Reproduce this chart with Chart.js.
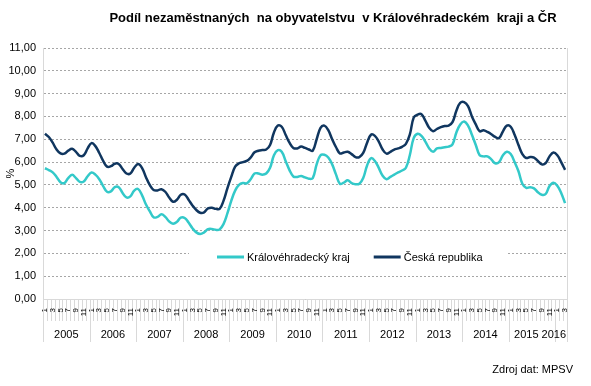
<!DOCTYPE html>
<html>
<head>
<meta charset="utf-8">
<script src="https://cdn.jsdelivr.net/npm/chart.js@4/dist/chart.umd.min.js"></script>
<style>
  html, body { margin: 0; padding: 0; background: #fff; }
  #wrap { width: 591px; height: 386px; position: relative; }
</style>
</head>
<body>
<div id="wrap"><canvas id="chart" width="591" height="386"></canvas></div>
<script>
// ----- Data -----
const chartTitle = "Podíl nezaměstnaných  na obyvatelstvu  v Královéhradeckém  kraji a ČR";
const sourceNote = "Zdroj dat: MPSV";
const years = ["2005", "2006", "2007", "2008", "2009", "2010", "2011", "2012", "2013", "2014", "2015", "2016"];
const months = ["1", "2", "3", "4", "5", "6", "7", "8", "9", "10", "11", "12"];
const monthsIn2016 = 3;
const seriesNames = ["Královéhradecký kraj", "Česká republika"];

// Královéhradecký kraj, monthly from 1/2005
const khk = [
  5.73, 5.65, 5.55, 5.35, 5.12, 5.08, 5.30, 5.44, 5.30, 5.13, 5.15, 5.38,
  5.54, 5.45, 5.25, 4.95, 4.70, 4.72, 4.90, 4.90, 4.65, 4.45, 4.50, 4.75,
  4.82, 4.55, 4.15, 3.85, 3.58, 3.60, 3.71, 3.60, 3.40, 3.30, 3.38, 3.57,
  3.55, 3.35, 3.10, 2.92, 2.85, 2.92, 3.06, 3.07, 3.03, 3.05, 3.28, 3.75,
  4.30, 4.75, 5.00, 5.08, 5.07, 5.25, 5.50, 5.50, 5.45, 5.50, 5.75, 6.30,
  6.52, 6.45, 6.05, 5.65, 5.37, 5.35, 5.39, 5.33, 5.27, 5.30, 5.90, 6.30,
  6.32, 6.20, 5.90, 5.45, 5.05, 5.10, 5.20, 5.08, 5.03, 5.05, 5.30, 5.85,
  6.17, 6.05, 5.75, 5.40, 5.25, 5.35, 5.45, 5.55, 5.63, 5.75, 6.30, 7.05,
  7.24, 7.15, 6.90, 6.60, 6.45, 6.60, 6.62, 6.65, 6.68, 6.78, 7.30, 7.65,
  7.78, 7.60, 7.20, 6.75, 6.30, 6.25, 6.25, 6.12, 5.95, 6.00, 6.30, 6.45,
  6.35, 6.00, 5.60, 5.05, 4.87, 4.90, 4.85, 4.68, 4.57, 4.60, 4.95, 5.10,
  4.96, 4.65, 4.20
];

// Česká republika, monthly from 1/2005
const cr = [
  7.24, 7.10, 6.85, 6.55, 6.38, 6.37, 6.50, 6.58, 6.45, 6.27, 6.30, 6.60,
  6.83, 6.70, 6.40, 6.05, 5.80, 5.82, 5.93, 5.92, 5.70, 5.50, 5.50, 5.75,
  5.92, 5.75, 5.35, 5.00, 4.78, 4.76, 4.81, 4.70, 4.45, 4.26, 4.35, 4.57,
  4.58, 4.35, 4.10, 3.90, 3.78, 3.80, 3.97, 4.00, 3.95, 3.95, 4.30, 4.85,
  5.35, 5.80, 5.95, 6.00, 6.05, 6.20, 6.43, 6.50, 6.53, 6.55, 6.75, 7.30,
  7.60, 7.55, 7.20, 6.85, 6.62, 6.60, 6.68, 6.62, 6.55, 6.50, 7.00, 7.50,
  7.60, 7.40, 7.00, 6.65, 6.38, 6.42, 6.45, 6.35, 6.22, 6.22, 6.40, 6.85,
  7.20, 7.15, 6.90, 6.55, 6.37, 6.45, 6.55, 6.60, 6.67, 6.80, 7.20, 7.95,
  8.08, 8.10, 7.82, 7.50, 7.35, 7.45, 7.53, 7.58, 7.60, 7.75, 8.25, 8.60,
  8.63, 8.45, 8.00, 7.65, 7.35, 7.40, 7.32, 7.22, 7.10, 7.05, 7.35, 7.60,
  7.55, 7.20, 6.75, 6.35, 6.18, 6.22, 6.20, 6.05, 5.90, 5.95, 6.25, 6.42,
  6.30, 6.00, 5.66
];

// ----- Labels -----
const labels = [];
years.forEach((y, i) => {
  const count = i === years.length - 1 ? monthsIn2016 : 12;
  for (let m = 0; m < count; m++) labels.push(months[m]);
});

const FONT = "Arial, 'Liberation Sans', sans-serif";
const GRID = "#d9d9d9";

// ----- Plugins: axis decoration, legend, title -----
const axisLines = {
  id: "axisLines",
  beforeDraw(chart) {
    const { ctx, chartArea: a, scales: { x } } = chart;
    const step = x.getPixelForValue(1) - x.getPixelForValue(0);
    ctx.save();
    ctx.strokeStyle = GRID;
    ctx.lineWidth = 1;
    ctx.beginPath();
    for (let i = 0; i <= labels.length; i++) {
      const px = Math.round(x.getPixelForValue(i) - step / 2) + 0.5;
      ctx.moveTo(px, a.bottom);
      ctx.lineTo(px, a.bottom + 22);
    }
    ctx.stroke();
    ctx.restore();
  },
  afterDraw(chart) {
    const { ctx, chartArea: a, scales: { x } } = chart;
    const step = x.getPixelForValue(1) - x.getPixelForValue(0);
    ctx.save();
    ctx.strokeStyle = GRID;
    ctx.lineWidth = 1;
    ctx.beginPath();
    // right border of plot
    ctx.moveTo(Math.round(a.right) + 0.5, a.top);
    ctx.lineTo(Math.round(a.right) + 0.5, a.bottom + 43);
    // year separators
    for (let k = 0; k < years.length; k++) {
      const px = Math.round(x.getPixelForValue(k * 12) - step / 2) + 0.5;
      ctx.moveTo(px, a.bottom);
      ctx.lineTo(px, a.bottom + 43);
    }
    ctx.stroke();

    // year labels
    ctx.font = "11px " + FONT;
    ctx.fillStyle = "#000";
    ctx.textAlign = "center";
    ctx.textBaseline = "middle";
    const pos = years.map((yr, k) => {
      const first = k * 12;
      const last = Math.min(first + 11, labels.length - 1);
      const c = (x.getPixelForValue(first) + x.getPixelForValue(last)) / 2;
      return { yr, c, w: ctx.measureText(yr).width };
    });
    let limit = a.right - 1;
    for (let k = pos.length - 1; k >= 0; k--) {
      const p = pos[k];
      if (p.c + p.w / 2 > limit) p.c = limit - p.w / 2;
      limit = p.c - p.w / 2 - 3;
    }
    pos.forEach((p) => ctx.fillText(p.yr, p.c, a.bottom + 36));

    // source
    ctx.textAlign = "right";
    ctx.fillText(sourceNote, 573, 370);

    // title
    ctx.font = "bold 13px " + FONT;
    ctx.textAlign = "center";
    ctx.fillText(chartTitle, 333, 18);

    // legend inside plot
    const ly = a.bottom - 42;
    ctx.fillStyle = "#fff";
    ctx.fillRect(189, ly - 12, 317, 25);
    ctx.font = "11px " + FONT;
    ctx.textAlign = "left";
    let lx = 217;
    chart.data.datasets.forEach((ds) => {
      ctx.strokeStyle = ds.borderColor;
      ctx.lineWidth = 3;
      ctx.beginPath();
      ctx.moveTo(lx, ly);
      ctx.lineTo(lx + 27, ly);
      ctx.stroke();
      ctx.fillStyle = "#000";
      ctx.fillText(ds.label, lx + 30, ly + 1);
      lx += 30 + ctx.measureText(ds.label).width + 24;
    });
    ctx.restore();
  },
};

// ----- Chart -----
new Chart(document.getElementById("chart"), {
  type: "line",
  data: {
    labels: labels,
    datasets: [
      {
        label: seriesNames[0],
        data: khk,
        borderColor: "#33c9c9",
        borderWidth: 2.5,
        pointRadius: 0,
        tension: 0.4,
        fill: false,
      },
      {
        label: seriesNames[1],
        data: cr,
        borderColor: "#10365f",
        borderWidth: 2.5,
        pointRadius: 0,
        tension: 0.4,
        fill: false,
      },
    ],
  },
  options: {
    responsive: false,
    animation: false,
    layout: { padding: { top: 48, right: 24, bottom: 0, left: 0 } },
    plugins: {
      legend: { display: false },
      title: { display: false },
      tooltip: { enabled: false },
    },
    scales: {
      x: {
        offset: true,
        grid: { display: false, drawTicks: false },
        border: { display: true, color: GRID },
        ticks: {
          autoSkip: false,
          minRotation: 90,
          maxRotation: 90,
          padding: 9,
          color: "#000",
          font: { size: 8, family: FONT },
          callback: (val, idx) => ((idx % 12) % 2 === 0 ? labels[idx] : ""),
        },
        afterFit: (scale) => { scale.height = 87; },
      },
      y: {
        min: 0,
        max: 11,
        grid: { color: "#a6a6a6", drawTicks: false },
        border: { display: true, color: GRID, dash: [2, 2] },
        ticks: {
          stepSize: 1,
          padding: 7,
          color: "#000",
          font: { size: 11, family: FONT },
          callback: (v) => v.toFixed(2).replace(".", ","),
        },
        title: { display: true, text: "%", color: "#000", font: { size: 11, family: FONT }, padding: { top: 4, bottom: 0 } },
        afterFit: (scale) => { scale.width = 43; },
      },
    },
  },
  plugins: [axisLines],
});
</script>
</body>
</html>
